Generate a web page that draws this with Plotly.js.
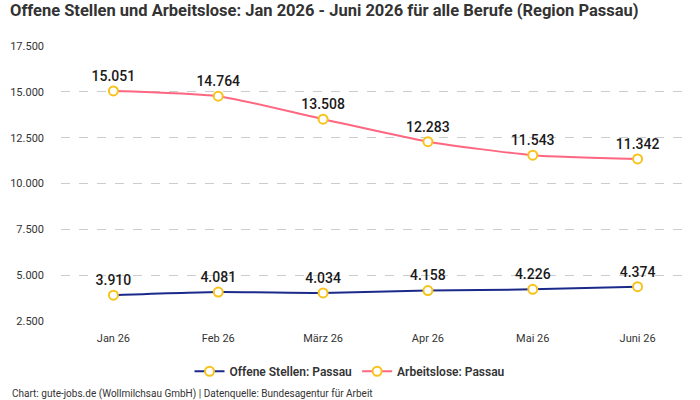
<!DOCTYPE html>
<html>
<head>
<meta charset="utf-8">
<script src="https://cdn.plot.ly/plotly-3.0.1.min.js"></script>
<style>
  html, body { margin: 0; padding: 0; background: #fff; }
  #chart { width: 700px; height: 400px; }
</style>
</head>
<body>
<div id="chart"></div>
<script>
// Monatswerte Region Passau, alle Berufe
const months = ['Jan 26', 'Feb 26', 'März 26', 'Apr 26', 'Mai 26', 'Juni 26'];
const offeneStellen = [3910, 4081, 4034, 4158, 4226, 4374];
const arbeitslose = [15051, 14764, 13508, 12283, 11543, 11342];
const yTicks = [2500, 5000, 7500, 10000, 12500, 15000, 17500];

const fmt = v => v.toLocaleString('de-DE');

const markerStyle = {
  symbol: 'circle',
  size: 9,
  color: '#ffffff',
  line: { color: '#f7c31a', width: 2 }
};

const labelFont = { family: 'Roboto, sans-serif', size: 14, color: '#1a1a1a', weight: 500 };

const traces = [
  {
    name: 'Offene Stellen: Passau',
    x: months,
    y: offeneStellen,
    type: 'scatter',
    mode: 'lines+markers+text',
    line: { color: '#1b2a8a', width: 2, shape: 'spline', smoothing: 0.6 },
    marker: markerStyle,
    text: offeneStellen.map(fmt),
    textposition: 'top center',
    textfont: labelFont,
    cliponaxis: false,
    hoverinfo: 'skip'
  },
  {
    name: 'Arbeitslose: Passau',
    x: months,
    y: arbeitslose,
    type: 'scatter',
    mode: 'lines+markers+text',
    line: { color: '#ff6680', width: 2, shape: 'spline', smoothing: 0.6 },
    marker: markerStyle,
    text: arbeitslose.map(fmt),
    textposition: 'top center',
    textfont: labelFont,
    cliponaxis: false,
    hoverinfo: 'skip'
  }
];

const layout = {
  width: 700,
  height: 400,
  margin: { l: 61, r: 10, t: 46, b: 79 },
  paper_bgcolor: '#ffffff',
  plot_bgcolor: '#ffffff',
  font: { family: 'Roboto, sans-serif', color: '#333333' },
  title: {
    text: '<b>Offene Stellen und Arbeitslose: Jan 2026 - Juni 2026 für alle Berufe (Region Passau)</b>',
    x: 10 / 700, xanchor: 'left', xref: 'container',
    y: 0.975, yanchor: 'middle', yref: 'container',
    font: { family: 'Roboto, sans-serif', size: 16.5, color: '#333333' }
  },
  xaxis: {
    type: 'category',
    range: [-0.5, 5.5],
    tickangle: 0,
    automargin: false,
    showgrid: false,
    zeroline: false,
    showline: false,
    ticks: '',
    ticklabelstandoff: 9,
    tickfont: { size: 11, color: '#333333' },
    fixedrange: true
  },
  yaxis: {
    range: [2500, 17500],
    automargin: false,
    tickvals: yTicks,
    ticktext: yTicks.map(fmt),
    showgrid: true,
    gridcolor: '#cccccc',
    griddash: 'dash',
    gridwidth: 1,
    zeroline: false,
    showline: false,
    ticks: '',
    ticklabelstandoff: 16,
    tickfont: { size: 11, color: '#333333' },
    fixedrange: true
  },
  showlegend: true,
  legend: {
    orientation: 'h',
    x: 0.4595, xanchor: 'center',
    y: -0.13, yanchor: 'top',
    font: { size: 12, color: '#333333', weight: 600 }
  },
  annotations: [
    {
      text: 'Chart: gute-jobs.de (Wollmilchsau GmbH) | Datenquelle: Bundesagentur für Arbeit',
      xref: 'paper', yref: 'paper',
      x: -0.081, xanchor: 'left',
      y: -0.235, yanchor: 'top',
      showarrow: false,
      font: { size: 10, color: '#333333' }
    }
  ]
};

Plotly.newPlot('chart', traces, layout, { displayModeBar: false, staticPlot: true });
</script>
</body>
</html>
